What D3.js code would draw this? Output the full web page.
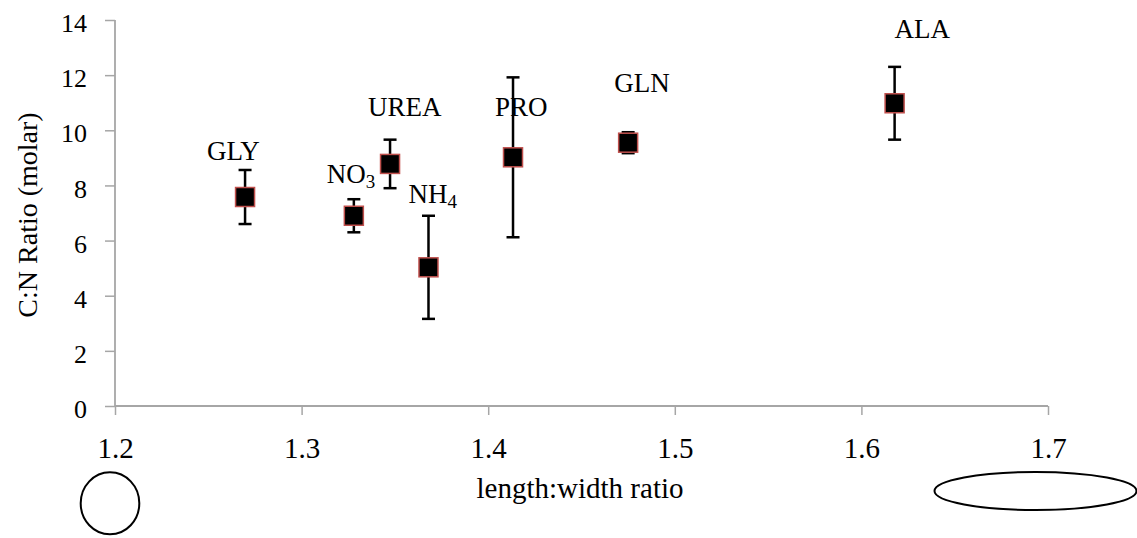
<!DOCTYPE html>
<html>
<head>
<meta charset="utf-8">
<script src="https://cdn.jsdelivr.net/npm/d3@7"></script>
<style>
  body { margin: 0; background: #fff; }
</style>
</head>
<body>
<div id="chart"></div>
<script>
// treatment names (label text + subscript)
var names = ["GLY", "NO", "UREA", "NH", "PRO", "GLN", "ALA"];
var subs = ["", "3", "", "4", "", "", ""];
// length:width ratio
var lwRatio = [1.2697, 1.328, 1.3474, 1.368, 1.4133, 1.475, 1.6178];
// C:N ratio (molar) and error
var cnRatio = [7.58, 6.90, 8.78, 5.03, 9.02, 9.55, 10.98];
var cnErr = [0.98, 0.6, 0.88, 1.87, 2.9, 0.38, 1.32];
var xTicks = [1.2, 1.3, 1.4, 1.5, 1.6, 1.7];
var yTicks = [0, 2, 4, 6, 8, 10, 12, 14];

function init() {
    var w = 1137;
    var h = 538;
    var serif = "Liberation Serif";

    var svg = d3.select("#chart")
                .append("svg")
                .attr("width", w)
                .attr("height", h);

    var x = d3.scaleLinear().domain([1.2, 1.7]).range([115, 1048]);
    var y = d3.scaleLinear().domain([0, 14]).range([406, 20]);

    // y axis
    var yAxis = svg.append("g")
        .attr("transform", "translate(" + x(1.2) + ",0)")
        .call(d3.axisLeft(y).tickValues(yTicks).tickSize(10).tickPadding(18).tickFormat(d3.format("d")));
    yAxis.attr("font-family", serif);
    yAxis.selectAll("text").attr("font-size", 26).attr("fill", "#000").attr("dy", "0.45em");

    // x axis
    var xAxis = svg.append("g")
        .attr("transform", "translate(0," + y(0) + ")")
        .call(d3.axisBottom(x).tickValues(xTicks).tickSize(9).tickPadding(22).tickFormat(d3.format(".1f")));
    xAxis.attr("font-family", serif);
    xAxis.selectAll("text").attr("font-size", 29).attr("fill", "#000");

    svg.selectAll(".domain").attr("stroke", "#a6a6a6").attr("stroke-width", 1.8);
    svg.selectAll(".tick line").attr("stroke", "#a6a6a6").attr("stroke-width", 1.5);
    // axis lines without outer end stubs
    yAxis.select(".domain").attr("d", "M0," + y(14) + "V" + y(0));
    xAxis.select(".domain").attr("d", "M" + x(1.2) + ",0H" + x(1.7));

    // axis titles
    svg.append("text")
        .attr("x", 580).attr("y", 498)
        .attr("text-anchor", "middle")
        .attr("font-family", serif)
        .attr("font-size", 29)
        .text("length:width ratio");

    svg.append("text")
        .attr("transform", "translate(37,215) rotate(-90)")
        .attr("text-anchor", "middle")
        .attr("font-family", serif)
        .attr("font-size", 28)
        .text("C:N Ratio (molar)");

    var pts = names.map(function(n, i) {
        return { name: n, sub: subs[i], x: lwRatio[i], y: cnRatio[i], e: cnErr[i] };
    });

    // error bars
    var eb = svg.selectAll(".err").data(pts).enter().append("g").attr("class", "err")
        .attr("stroke", "#000").attr("stroke-width", 2.5);
    eb.append("line")
        .attr("x1", function(d) { return x(d.x); })
        .attr("x2", function(d) { return x(d.x); })
        .attr("y1", function(d) { return y(d.y + d.e); })
        .attr("y2", function(d) { return y(d.y - d.e); });
    eb.append("line")
        .attr("x1", function(d) { return x(d.x) - 6.5; })
        .attr("x2", function(d) { return x(d.x) + 6.5; })
        .attr("y1", function(d) { return y(d.y + d.e); })
        .attr("y2", function(d) { return y(d.y + d.e); });
    eb.append("line")
        .attr("x1", function(d) { return x(d.x) - 6.5; })
        .attr("x2", function(d) { return x(d.x) + 6.5; })
        .attr("y1", function(d) { return y(d.y - d.e); })
        .attr("y2", function(d) { return y(d.y - d.e); });

    // square markers
    svg.selectAll(".pt").data(pts).enter().append("rect").attr("class", "pt")
        .attr("x", function(d) { return x(d.x) - 9.5; })
        .attr("y", function(d) { return y(d.y) - 9.5; })
        .attr("width", 19).attr("height", 19)
        .attr("fill", "#000")
        .attr("stroke", "#c0504d")
        .attr("stroke-width", 1.5);

    // label offsets from each point (pixels)
    var labelOff = [[-38, -37], [-27, -33], [-22, -48], [-20, -64], [-18, -41], [-14, -51], [0, -65]];
    var lab = svg.selectAll(".lab").data(pts).enter().append("text").attr("class", "lab")
        .attr("x", function(d, i) { return x(d.x) + labelOff[i][0]; })
        .attr("y", function(d, i) { return y(d.y) + labelOff[i][1]; })
        .attr("font-family", serif)
        .attr("font-size", 27)
        .attr("fill", "#000");
    lab.append("tspan").text(function(d) { return d.name; });
    lab.append("tspan")
        .attr("font-size", 19)
        .attr("dy", 5)
        .text(function(d) { return d.sub; });

    // hand-drawn shapes below the axis
    svg.append("ellipse")
        .attr("cx", 110).attr("cy", 503.3).attr("rx", 29.3).attr("ry", 31)
        .attr("fill", "none").attr("stroke", "#000").attr("stroke-width", 2);
    svg.append("ellipse")
        .attr("cx", 1035.5).attr("cy", 491).attr("rx", 101).attr("ry", 19)
        .attr("fill", "none").attr("stroke", "#000").attr("stroke-width", 2);
}
window.onload = init;
</script>
</body>
</html>
